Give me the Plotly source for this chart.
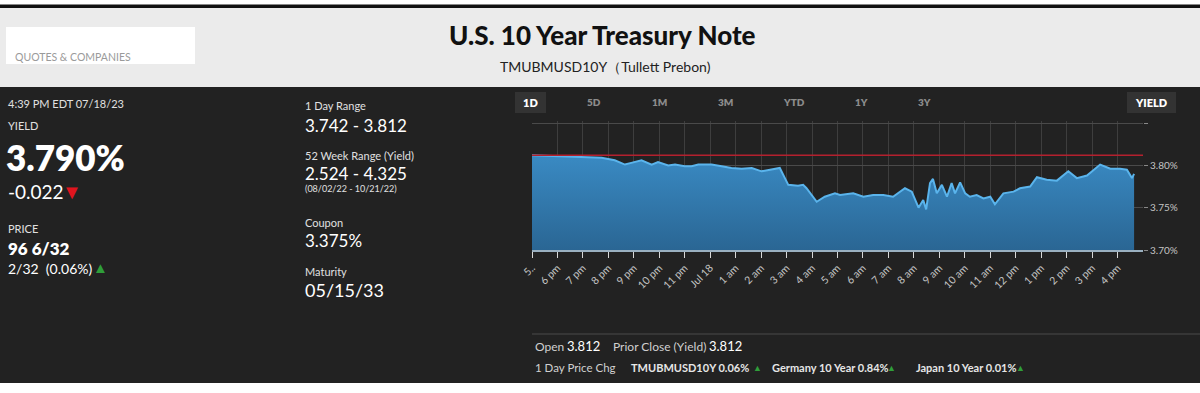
import plotly.graph_objects as go

W, H = 1200, 393

# ---- data ----
times = [
    "2023-07-17 17:00", "2023-07-17 19:44", "2023-07-17 20:15", "2023-07-17 20:39",
    "2023-07-17 20:54", "2023-07-17 21:18", "2023-07-17 21:42", "2023-07-17 21:57",
    "2023-07-17 22:21", "2023-07-17 22:37", "2023-07-17 23:00", "2023-07-17 23:16",
    "2023-07-17 23:32", "2023-07-18 00:03", "2023-07-18 00:27", "2023-07-18 00:50",
    "2023-07-18 01:14", "2023-07-18 01:38", "2023-07-18 02:01", "2023-07-18 02:25",
    "2023-07-18 02:44", "2023-07-18 02:56", "2023-07-18 03:04", "2023-07-18 03:27",
    "2023-07-18 03:39", "2023-07-18 03:47", "2023-07-18 04:11", "2023-07-18 04:30",
    "2023-07-18 04:54", "2023-07-18 05:06", "2023-07-18 05:37", "2023-07-18 06:01",
    "2023-07-18 06:24", "2023-07-18 06:48", "2023-07-18 07:11", "2023-07-18 07:39",
    "2023-07-18 07:55", "2023-07-18 08:11", "2023-07-18 08:22", "2023-07-18 08:29",
    "2023-07-18 08:38", "2023-07-18 08:45", "2023-07-18 08:54", "2023-07-18 09:06",
    "2023-07-18 09:18", "2023-07-18 09:29", "2023-07-18 09:37", "2023-07-18 09:49",
    "2023-07-18 10:01", "2023-07-18 10:12", "2023-07-18 10:28", "2023-07-18 10:44",
    "2023-07-18 11:00", "2023-07-18 11:11", "2023-07-18 11:31", "2023-07-18 11:55",
    "2023-07-18 12:10", "2023-07-18 12:34", "2023-07-18 12:50", "2023-07-18 13:13",
    "2023-07-18 13:37", "2023-07-18 14:04", "2023-07-18 14:24", "2023-07-18 14:48",
    "2023-07-18 15:19", "2023-07-18 15:43", "2023-07-18 16:06", "2023-07-18 16:22",
    "2023-07-18 16:34", "2023-07-18 16:39",
]
yields = [
    3.812, 3.809, 3.806, 3.801,
    3.803, 3.806, 3.801, 3.804,
    3.800, 3.801, 3.799, 3.799,
    3.801, 3.801, 3.799, 3.797,
    3.796, 3.797, 3.793, 3.795,
    3.797, 3.785, 3.777, 3.776,
    3.777, 3.773, 3.757, 3.763,
    3.767, 3.765, 3.767, 3.763,
    3.765, 3.765, 3.763, 3.773,
    3.769, 3.750, 3.759, 3.748,
    3.779, 3.784, 3.767, 3.777,
    3.763, 3.779, 3.767, 3.780,
    3.767, 3.763, 3.765, 3.761,
    3.763, 3.754, 3.767, 3.769,
    3.773, 3.775, 3.786, 3.783,
    3.782, 3.793, 3.785, 3.788,
    3.801, 3.796, 3.796, 3.795,
    3.785, 3.790,
]
prior_close = 3.812

tick_times = [
    "2023-07-17 17:00", "2023-07-17 18:00", "2023-07-17 19:00", "2023-07-17 20:00",
    "2023-07-17 21:00", "2023-07-17 22:00", "2023-07-17 23:00", "2023-07-18 00:00",
    "2023-07-18 01:00", "2023-07-18 02:00", "2023-07-18 03:00", "2023-07-18 04:00",
    "2023-07-18 05:00", "2023-07-18 06:00", "2023-07-18 07:00", "2023-07-18 08:00",
    "2023-07-18 09:00", "2023-07-18 10:00", "2023-07-18 11:00", "2023-07-18 12:00",
    "2023-07-18 13:00", "2023-07-18 14:00", "2023-07-18 15:00", "2023-07-18 16:00",
]
tick_labels = [
    "5..", "6 pm", "7 pm", "8 pm", "9 pm", "10 pm", "11 pm", "Jul 18",
    "1 am", "2 am", "3 am", "4 am", "5 am", "6 am", "7 am", "8 am",
    "9 am", "10 am", "11 am", "12 pm", "1 pm", "2 pm", "3 pm", "4 pm",
]
y_tickvals = [3.70, 3.75, 3.80, 3.85]
y_ticktext = ["3.70%", "3.75%", "3.80%", ""]

range_buttons = ["1D", "5D", "1M", "3M", "YTD", "1Y", "3Y"]
range_button_x = [530, 594, 659, 725, 794, 861, 924]

# ---- helpers ----
def px(x):
    return x / W

def py(y):
    return 1 - y / H

FONT = "Lato"

fig = go.Figure()

fig.add_trace(go.Scatter(
    x=times, y=yields, mode="lines",
    line=dict(color="#5ab4ec", width=2),
    fill="tozeroy",
    fillgradient=dict(type="vertical", start=3.70, stop=3.815,
                      colorscale=[[0, "#2a6694"], [1, "#3a8bc4"]]),
    hoverinfo="skip", showlegend=False,
))
fig.add_trace(go.Scatter(
    x=["2023-07-17 17:00", "2023-07-18 17:00"], y=[prior_close, prior_close],
    mode="lines", line=dict(color="#b4202e", width=1.6),
    hoverinfo="skip", showlegend=False,
))

shapes = [
    dict(type="rect", xref="paper", yref="paper", x0=0, x1=1, y0=py(8), y1=py(4.5),
         fillcolor="#111111", line_width=0, layer="below"),
    dict(type="rect", xref="paper", yref="paper", x0=0, x1=1, y0=py(87), y1=py(8),
         fillcolor="#ebebeb", line_width=0, layer="below"),
    dict(type="rect", xref="paper", yref="paper", x0=px(6), x1=px(195), y0=py(64), y1=py(27),
         fillcolor="#ffffff", line_width=0, layer="below"),
    dict(type="rect", xref="paper", yref="paper", x0=0, x1=1, y0=py(383), y1=py(87),
         fillcolor="#222222", line_width=0, layer="below"),
    dict(type="rect", xref="paper", yref="paper", x0=px(515), x1=px(546), y0=py(113), y1=py(92),
         fillcolor="#333333", line_width=0, layer="below"),
    dict(type="rect", xref="paper", yref="paper", x0=px(1127), x1=px(1176), y0=py(113), y1=py(92),
         fillcolor="#333333", line_width=0, layer="below"),
    dict(type="line", xref="paper", yref="paper", x0=px(532), x1=1, y0=py(334), y1=py(334),
         line=dict(color="#4a4a4a", width=1), layer="below"),
]

ann = []

def txt(x, y, s, size, color="#e6e6e6", weight=400, anchor="left", family=FONT):
    ann.append(dict(x=px(x), y=py(y), xref="paper", yref="paper", text=s, showarrow=False,
                    xanchor=anchor, yanchor="middle",
                    font=dict(family=family, size=size, color=color, weight=weight)))

# header
txt(603, 35, "U.S. 10 Year Treasury Note", 26, "#111111", 900, "center")
txt(605, 66, "TMUBMUSD10Y（Tullett Prebon)", 14, "#222222", 400, "center")
txt(13, 57, "QUOTES &amp; COMPANIES", 10.5, "#9a9a9a")

# left column
txt(6, 104, "4:39 PM EDT 07/18/23", 11, "#e0e0e0")
txt(6, 126, "YIELD", 11, "#e0e0e0")
txt(4, 157, "3.790%", 35, "#ffffff", 800)
txt(6, 192, "-0.022", 19, "#ffffff")
txt(60, 191, "▼", 20, "#e0141e")
txt(6, 228, "PRICE", 11, "#e0e0e0")
txt(6, 248, "96 6/32", 17, "#ffffff", 800)
txt(6, 268, "2/32  (0.06%)", 14, "#ffffff")
txt(91, 267, "▲", 15, "#2f9e3a")

# middle column
txt(303, 105, "1 Day Range", 11, "#e0e0e0")
txt(303, 125, "3.742 - 3.812", 17, "#ffffff")
txt(303, 155, "52 Week Range (Yield)", 11, "#e0e0e0")
txt(303, 173, "2.524 - 4.325", 17, "#ffffff")
txt(303, 188, "(08/02/22 - 10/21/22)", 9, "#e0e0e0")
txt(303, 222, "Coupon", 11, "#e0e0e0")
txt(303, 240, "3.375%", 17, "#ffffff")
txt(303, 271, "Maturity", 11, "#e0e0e0")
txt(303, 290, "05/15/33", 18, "#ffffff")

# range buttons
for lab, bx in zip(range_buttons, range_button_x):
    if lab == "1D":
        txt(bx, 102, lab, 11, "#ffffff", 800, "center")
    else:
        txt(bx, 102, lab, 10, "#8c8c8c", 800, "center")
txt(1151, 102, "YIELD", 11, "#ffffff", 800, "center")

# footer info
txt(533, 346, "Open", 12, "#d0d0d0")
txt(565, 346, "3.812", 13, "#ffffff")
txt(611, 346, "Prior Close (Yield)", 12, "#d0d0d0")
txt(707, 346, "3.812", 13, "#ffffff")
txt(533, 367, "1 Day Price Chg", 11.5, "#d0d0d0")
txt(629, 367, "TMUBMUSD10Y 0.06%", 11, "#e6e6e6", 700)
txt(751, 367, "▲", 9, "#2f9e3a")
txt(770, 367, "Germany 10 Year 0.84%", 11, "#e6e6e6", 700)
txt(885, 367, "▲", 9, "#2f9e3a")
txt(914, 367, "Japan 10 Year 0.01%", 11, "#e6e6e6", 700)
txt(1014, 367, "▲", 9, "#2f9e3a")

fig.update_layout(
    template="none",
    width=W, height=H,
    margin=dict(l=0, r=0, t=0, b=0, pad=0, autoexpand=False),
    paper_bgcolor="#ffffff",
    plot_bgcolor="rgba(0,0,0,0)",
    shapes=shapes,
    annotations=ann,
    showlegend=False,
    xaxis=dict(
        automargin=False,
        domain=[px(532), px(1143)],
        type="date",
        range=["2023-07-17 17:00", "2023-07-18 17:00"],
        tickvals=tick_times, ticktext=tick_labels,
        tickangle=-45,
        tickfont=dict(family=FONT, size=10.5, color="#c4c4c4"),
        ticks="outside", ticklen=6, tickcolor="#d8d8d8", tickwidth=1,
        showgrid=True, gridcolor="#3e3e3e", gridwidth=1,
        showline=True, linecolor="#9ab0c0", linewidth=1.5,
        zeroline=False, fixedrange=True,
    ),
    yaxis=dict(
        automargin=False,
        domain=[py(250), py(121)],
        range=[3.70, 3.8525],
        side="right",
        tickvals=y_tickvals, ticktext=y_ticktext,
        tickfont=dict(family=FONT, size=10, color="#c4c4c4"),
        ticks="outside", ticklen=4, tickcolor="#888888",
        showgrid=True, gridcolor="#4a4a4a", gridwidth=1,
        zeroline=False, showline=False, fixedrange=True,
    ),
)

fig.write_html(
    "out.html",
    config={"displayModeBar": False},
    post_script="document.body.style.margin='0';document.body.style.padding='0';",
)
